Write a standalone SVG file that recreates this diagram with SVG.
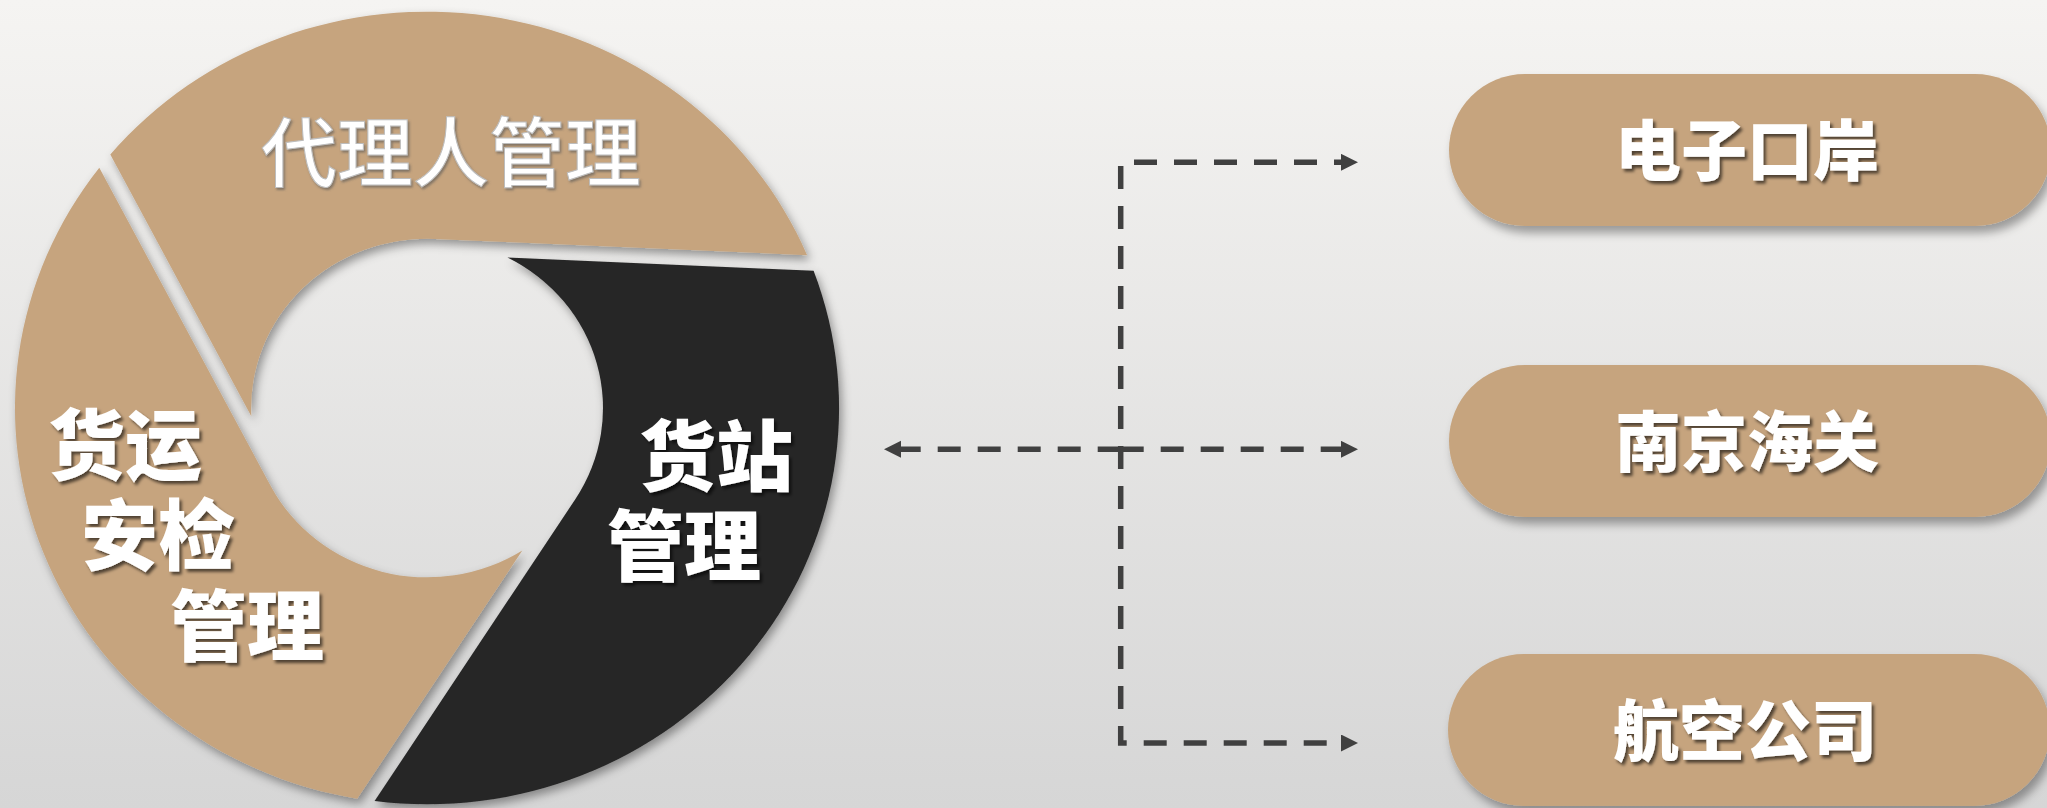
<svg xmlns="http://www.w3.org/2000/svg" width="2047" height="808" viewBox="0 0 2047 808">
  <defs>
    <linearGradient id="bg" x1="0" y1="0" x2="0" y2="1">
      <stop offset="0" stop-color="#f5f4f2"/>
      <stop offset="1" stop-color="#d6d6d6"/>
    </linearGradient>
    <filter id="segShadow" x="-20%" y="-20%" width="140%" height="140%">
      <feDropShadow dx="3" dy="5" stdDeviation="5" flood-color="#000" flood-opacity="0.38"/>
    </filter>
    <filter id="pillShadow" x="-10%" y="-20%" width="120%" height="150%">
      <feDropShadow dx="4" dy="7" stdDeviation="5" flood-color="#000" flood-opacity="0.35"/>
    </filter>
    <filter id="txtShadow" x="-10%" y="-20%" width="130%" height="150%">
      <feDropShadow dx="2.5" dy="3" stdDeviation="1.5" flood-color="#000" flood-opacity="0.6"/>
    </filter>
    <filter id="emboss" x="-10%" y="-20%" width="130%" height="150%">
      <feDropShadow dx="1.5" dy="2" stdDeviation="1" flood-color="#555" flood-opacity="0.6"/>
    </filter>
    <marker id="arrow" markerUnits="userSpaceOnUse" markerWidth="18" markerHeight="18" refX="1" refY="8.5" orient="auto-start-reverse">
      <path d="M0,0 L17,8.5 L0,17 Z" fill="#404040"/>
    </marker>
    <style>
      .tan { fill: #c6a47e; }
      .dark { fill: #262626; }
      .bold { font-family: "Noto Sans CJK SC", "Noto Sans", sans-serif; font-weight: 900; fill: #ffffff; filter: url(#txtShadow); }
      .ring { font-size: 77px; }
      .pilltxt { font-size: 66px; text-anchor: middle; }
      .emb { font-family: "Noto Sans CJK SC", "Noto Sans", sans-serif; font-weight: 500; font-size: 76px; fill: #ffffff; stroke: #bdbdbd; stroke-width: 1; filter: url(#emboss); }
      .conn { fill: none; stroke: #404040; stroke-width: 5.5; stroke-dasharray: 23 17; }
      .pill { fill: #c6a47e; filter: url(#pillShadow); }
    </style>
  </defs>

  <rect x="0" y="0" width="2047" height="808" fill="url(#bg)"/>

  <g id="ring" transform="translate(427,408) scale(1,0.962)">
    <g id="seg-agent">
      <path class="tan" filter="url(#segShadow)" d="M -316.7,-263.5 A 412 412 0 0 1 380.1,-158.9 L 8.0,-175.8 A 176 176 0 0 0 -175.7,8.5 Z"/>
    </g>
    <g id="seg-station">
      <path class="dark" filter="url(#segShadow)" d="M 386.6,-142.6 A 412 412 0 0 1 -52.4,408.6 L 148.3,94.8 A 176 176 0 0 0 80.5,-156.5 Z"/>
    </g>
    <g id="seg-security">
      <path class="tan" filter="url(#segShadow)" d="M -69.8,406.1 A 412 412 0 0 1 -327.7,-249.7 L -156.3,81.0 A 176 176 0 0 0 95.3,148.0 Z"/>
    </g>
  </g>

  <g id="label-agent">
    <text class="emb" x="451" y="181" text-anchor="middle">代理人管理</text>
  </g>
  <g id="label-security">
    <text class="bold ring"><tspan x="48" y="474">货运</tspan><tspan x="81" y="564">安检</tspan><tspan x="170" y="655">管理</tspan></text>
  </g>
  <g id="label-station">
    <text class="bold ring"><tspan x="639" y="485">货站</tspan><tspan x="607" y="575">管理</tspan></text>
  </g>

  <g id="connectors">
    <path class="conn" stroke-dashoffset="15" d="M1342,162.3 H1120.7 V743 H1342" marker-start="url(#arrow)" marker-end="url(#arrow)"/>
    <path class="conn" d="M1120.7,449.3 H900" marker-end="url(#arrow)"/>
    <path class="conn" d="M1120.7,449.3 H1342" marker-end="url(#arrow)"/>
  </g>

  <g id="node-eport">
    <rect class="pill" x="1449" y="74" width="602" height="152" rx="76" ry="76"/>
    <text class="bold pilltxt" x="1747" y="175">电子口岸</text>
  </g>
  <g id="node-customs">
    <rect class="pill" x="1449" y="365" width="602" height="152" rx="76" ry="76"/>
    <text class="bold pilltxt" x="1747" y="466">南京海关</text>
  </g>
  <g id="node-airline">
    <rect class="pill" x="1448" y="654" width="602" height="152" rx="76" ry="76"/>
    <text class="bold pilltxt" x="1745" y="755">航空公司</text>
  </g>
</svg>
